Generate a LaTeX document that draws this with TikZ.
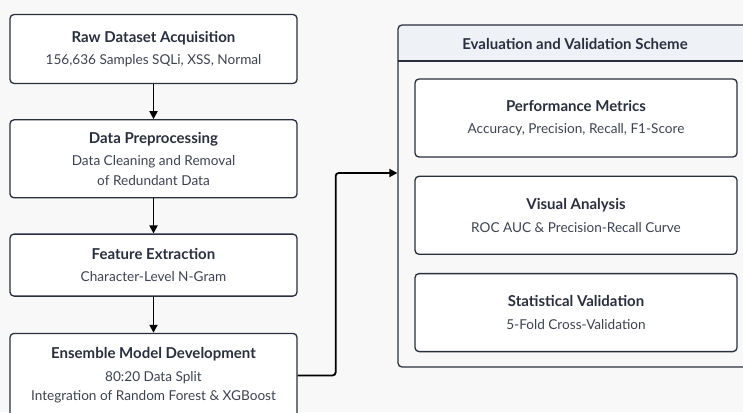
\documentclass[tikz,border=0pt]{standalone}
\usepackage{fontspec}
\setmainfont{Lato}
\usepackage{tikz}
\usetikzlibrary{arrows.meta,positioning}
\definecolor{ink}{HTML}{2A2F3D}
\definecolor{muted}{HTML}{3E4350}
\definecolor{paper}{HTML}{F8F8F9}
\definecolor{headfill}{HTML}{EEF1F6}
\tikzset{
  stage/.style={draw=ink,line width=1.3pt,rounded corners=4pt,fill=white,
    align=center,text=muted,font=\fontsize{13.6}{19.5}\selectfont},
  flow/.style={-{Triangle[length=8pt,width=8pt]},line width=1.8pt,black},
}
% bold heading line of a box
\newcommand{\boxhead}[1]{{\fontsize{15}{17}\selectfont\bfseries\color{ink}#1}\\[3pt]}

\begin{document}
\begin{tikzpicture}[x=1pt,y=-1pt]
  \useasboundingbox (0,0) rectangle (743,412);
  \clip (0,0) rectangle (743,412);
  \fill[paper] (0,0) rectangle (743,412);

  % pipeline on the left
  \node[stage,minimum width=287pt,minimum height=69pt] (raw) at (153.5,49)
    {\boxhead{Raw Dataset Acquisition}156,636 Samples SQLi, XSS, Normal};
  \node[stage,minimum width=287pt,minimum height=78pt,below=35pt of raw] (prep)
    {\boxhead{Data Preprocessing}Data Cleaning and Removal\\of Redundant Data};
  \node[stage,minimum width=287pt,minimum height=62pt,below=35pt of prep] (feat)
    {\boxhead{Feature Extraction}Character-Level N-Gram};
  \node[stage,minimum width=287pt,minimum height=84pt,below=36pt of feat] (model)
    {\boxhead{Ensemble Model Development}80:20 Data Split\\Integration of Random Forest \& XGBoost};

  \draw[flow] (raw) -- (prep);
  \draw[flow] (prep) -- (feat);
  \draw[flow] (feat) -- (model);

  % evaluation panel
  \fill[headfill] (398,61) {[rounded corners=4pt] -- (398,25) -- (752,25)} -- (752,61) -- cycle;
  \node[draw=ink,line width=1.3pt,rounded corners=4pt,minimum width=354pt,minimum height=342pt] (scheme) at (575,196) {};
  \draw[ink,line width=1.3pt] (398,61) -- (752,61);
  \node[font=\fontsize{15}{17}\selectfont\bfseries,text=ink] (schemetitle) at (575,44) {Evaluation and Validation Scheme};

  \node[stage,minimum width=322pt,minimum height=78pt] (metrics) at (576,118)
    {\boxhead{Performance Metrics}Accuracy, Precision, Recall, F1-Score};
  \node[stage,minimum width=322pt,minimum height=78pt,below=18pt of metrics] (visual)
    {\boxhead{Visual Analysis}ROC AUC \& Precision-Recall Curve};
  \node[stage,minimum width=322pt,minimum height=78pt,below=18pt of visual] (stats)
    {\boxhead{Statistical Validation}5-Fold Cross-Validation};

  \draw[flow,rounded corners=3pt] (model.east) -- ++(38,0) |- ([yshift=23pt]scheme.west);
\end{tikzpicture}
\end{document}
